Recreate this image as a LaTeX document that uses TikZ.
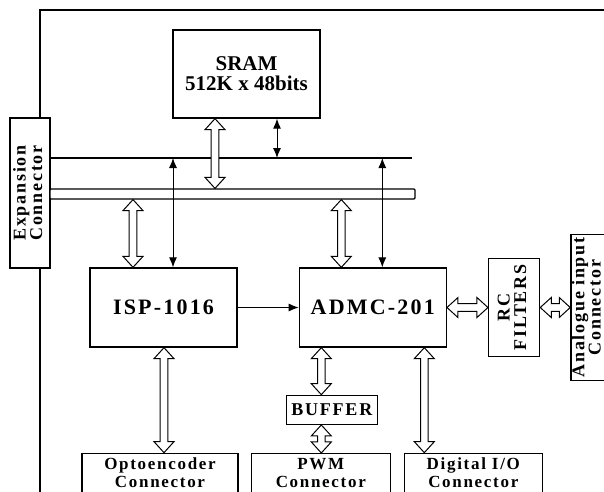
\documentclass[tikz,border=0pt]{standalone}
\usepackage{fontspec}
\setmainfont{Liberation Serif}
\usepackage{graphicx}
\usetikzlibrary{arrows.meta,positioning,calc}

\newcommand{\bigfont}{\fontsize{22}{22}\selectfont\bfseries\addfontfeature{LetterSpace=10}}
\newcommand{\midfont}{\fontsize{18}{18}\selectfont\bfseries\addfontfeature{LetterSpace=10}}
\newcommand{\lowfont}{\fontsize{17}{17.5}\selectfont\bfseries\addfontfeature{LetterSpace=10}}
\newcommand{\fatlen}{11pt}
\newcommand{\fatwid}{10pt}
\newcommand{\fatshaft}{3.8pt}
\renewcommand{\arraystretch}{0.85}

\begin{document}
\begin{tikzpicture}[x=1pt, y=-1pt,
  box/.style={rectangle, draw, line width=1.3pt, fill=white, align=center, inner sep=1pt},
  chip/.style={box, minimum width=147pt, minimum height=79pt, font=\bigfont},
  conn/.style={box, minimum width=#1, minimum height=39pt, font=\lowfont},
  side/.style={box, font=\midfont},
  bar/.style={draw, line width=1.2pt, fill=white, rounded corners=1pt},
  frame/.style={line width=1.3pt},
  ar/.style={{Latex[length=10pt,width=8pt]}-{Latex[length=10pt,width=8pt]}, line width=1pt},
  fat/.style={draw, line width=1pt, fill=white, to path={
    (\tikztostart)
    -- ($(\tikztostart)!\fatlen!(\tikztotarget)!\fatwid!90:(\tikztotarget)$)
    -- ($(\tikztostart)!\fatlen!(\tikztotarget)!\fatshaft!90:(\tikztotarget)$)
    -- ($(\tikztotarget)!\fatlen!(\tikztostart)!\fatshaft!-90:(\tikztostart)$)
    -- ($(\tikztotarget)!\fatlen!(\tikztostart)!\fatwid!-90:(\tikztostart)$)
    -- (\tikztotarget)
    -- ($(\tikztotarget)!\fatlen!(\tikztostart)!\fatwid!90:(\tikztostart)$)
    -- ($(\tikztotarget)!\fatlen!(\tikztostart)!\fatshaft!90:(\tikztostart)$)
    -- ($(\tikztostart)!\fatlen!(\tikztotarget)!\fatshaft!-90:(\tikztotarget)$)
    -- ($(\tikztostart)!\fatlen!(\tikztotarget)!\fatwid!-90:(\tikztotarget)$)
    -- cycle}}]
  \useasboundingbox (0,0) rectangle (604,491);
  \clip (0,0) rectangle (604,491);

  % blocks
  \node[box, minimum width=147pt, minimum height=88pt, font=\fontsize{21}{20}\selectfont\bfseries] (sram) at (246.5,74) {SRAM\\512K x 48bits};
  \node[side, minimum width=40pt, minimum height=150pt] (exp) at (30,193)
    {\rotatebox{90}{\begin{tabular}{@{}c@{}}Expansion\\Connector\end{tabular}}};
  \node[chip] (isp) at (163.5,307.5) {ISP-1016};
  \node[chip, right=61pt of isp] (admc) {ADMC-201};
  \node[side, minimum width=51pt, minimum height=98pt, right=41pt of admc] (rc)
    {\rotatebox{90}{\begin{tabular}{@{}c@{}}RC\\FILTERS\end{tabular}}};
  \node[side, minimum width=40pt, minimum height=146pt, right=30pt of rc] (ana)
    {\rotatebox{90}{\renewcommand{\arraystretch}{0.8}\begin{tabular}{@{}c@{}}Analogue input\\Connector\end{tabular}}\hspace*{9pt}};
  \node[box, font=\midfont, minimum width=91pt, minimum height=29pt, below=47pt of admc, xshift=-41pt] (buf) {BUFFER};
  \node[conn=156pt, below=105pt of isp, xshift=-3.5pt] (opto) {Optoencoder\\Connector};
  \node[conn=139pt, below=28pt of buf, xshift=-11pt] (pwm) {PWM\\Connector};
  \node[conn=138pt, below=105pt of admc, xshift=100.5pt] (dio) {Digital I/O\\Connector};

  % board outline and buses
  \draw[frame] ([xshift=10pt]exp.north) |- (612,10);
  \draw[frame] ([xshift=10pt]exp.south) -- ++(0,240);
  \coordinate (busl) at (50,158);
  \coordinate (busr) at (412,158);
  \draw[frame] (busl) -- (busr);
  \node[bar, minimum width=365pt, minimum height=10pt, inner sep=0pt] (busb) at (232.5,194) {};

  % links
  \draw[fat] ([xshift=-31.5pt]sram.south) coordinate (a1) to (a1 |- busb.north);
  \draw[ar] ([xshift=30.5pt]sram.south) coordinate (a2) -- (a2 |- busr);
  \draw[ar] ([xshift=9.5pt]isp.north) coordinate (a3) -- (a3 |- busr);
  \draw[fat] ([xshift=-30.5pt]isp.north) coordinate (a4) to (a4 |- busb.south);
  \draw[fat] ([xshift=-31.5pt]admc.north) coordinate (a5) to (a5 |- busb.south);
  \draw[ar] ([xshift=9.5pt]admc.north) coordinate (a6) -- (a6 |- busr);
  \draw[-{Latex[length=10pt,width=8pt]}, line width=1pt] (isp.east) -- (admc.west);
  \draw[fat] (admc.east) to (rc.west);
  \draw[fat] (rc.east) to (ana.west);
  \draw[fat] ([xshift=0.5pt]isp.south) coordinate (a7) to (a7 |- opto.north);
  \draw[fat] ([xshift=-51.5pt]admc.south) coordinate (a8) to (a8 |- buf.north);
  \draw[fat] (buf.south -| a8) to (a8 |- pwm.north);
  \draw[fat] ([xshift=51.5pt]admc.south) coordinate (a9) to (a9 |- dio.north);
\end{tikzpicture}
\end{document}
